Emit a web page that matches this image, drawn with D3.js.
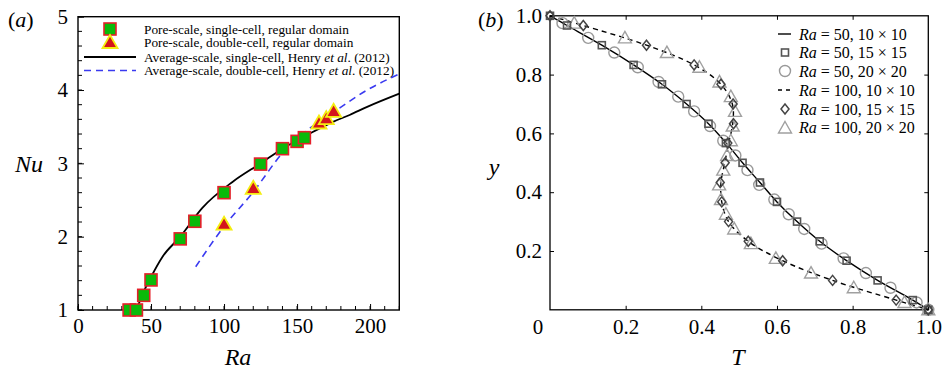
<!doctype html>
<html>
<head>
<meta charset="utf-8">
<script src="https://d3js.org/d3.v7.min.js"></script>
<style>
  body { margin: 0; background: #fff; }
  svg { display: block; font-family: "Liberation Serif", "Times New Roman", serif; }
</style>
</head>
<body>
<div id="chart"></div>
<script>
// ---- panel (a): Nu vs Ra ----
var raSingle = [35, 40, 45, 50, 70, 80, 100, 125, 140, 150, 155];
var nuSingle = [1.0, 1.0, 1.2, 1.41, 1.97, 2.21, 2.6, 2.99, 3.2, 3.3, 3.35];
var raDouble = [100, 120, 165, 170, 175];
var nuDouble = [2.17, 2.66, 3.55, 3.61, 3.71];
var raAvgSingle = [40, 45, 50, 58, 70, 85, 106, 125, 140, 159, 175, 186, 198, 220];
var nuAvgSingle = [1.0, 1.25, 1.45, 1.73, 2.0, 2.39, 2.75, 3.0, 3.2, 3.41, 3.57, 3.66, 3.77, 3.95];
var raAvgDouble = [80.6, 100, 120, 140, 165, 175, 198, 220];
var nuAvgDouble = [1.59, 2.14, 2.61, 3.14, 3.57, 3.7, 4.0, 4.22];
var legendA = ["Pore-scale, single-cell, regular domain",
               "Pore-scale, double-cell, regular domain",
               "Average-scale, single-cell, Henry |et al|. (2012)",
               "Average-scale, double-cell, Henry |et al|. (2012)"];

// ---- panel (b): y vs T ----
var yGrid15 = [1, 0.967, 0.9, 0.833, 0.767, 0.7, 0.633, 0.567, 0.5, 0.433, 0.367, 0.3, 0.233, 0.167, 0.1, 0.033, 0];
var tRa50_15 = [0, 0.045, 0.137, 0.221, 0.296, 0.361, 0.419, 0.465, 0.509, 0.555, 0.6, 0.653, 0.713, 0.784, 0.866, 0.959, 1];
var tRa100_15 = [0, 0.088, 0.255, 0.381, 0.452, 0.484, 0.485, 0.47, 0.463, 0.45, 0.454, 0.472, 0.524, 0.615, 0.747, 0.915, 1];
var yGrid20 = [0.975, 0.925, 0.875, 0.825, 0.775, 0.725, 0.675, 0.625, 0.575, 0.525, 0.475, 0.425, 0.375, 0.325, 0.275, 0.225, 0.175, 0.125, 0.075, 0.025, 0];
var tRa50_20 = [0.033, 0.101, 0.17, 0.232, 0.287, 0.339, 0.381, 0.423, 0.458, 0.49, 0.522, 0.553, 0.593, 0.631, 0.672, 0.718, 0.776, 0.835, 0.9, 0.969, 1];
var tRa100_20 = [0.064, 0.198, 0.309, 0.395, 0.448, 0.478, 0.489, 0.483, 0.478, 0.468, 0.458, 0.447, 0.452, 0.465, 0.487, 0.531, 0.597, 0.69, 0.803, 0.937, 1];
var yLine = [1, 0.967, 0.9, 0.833, 0.767, 0.7, 0.633, 0.567, 0.5, 0.433, 0.367, 0.3, 0.233, 0.167, 0.1, 0.033, 0];
var tLine50 = [0, 0.045, 0.137, 0.221, 0.296, 0.361, 0.419, 0.466, 0.509, 0.555, 0.6, 0.653, 0.713, 0.784, 0.866, 0.959, 1];
var tLine100 = [0, 0.088, 0.255, 0.381, 0.452, 0.482, 0.483, 0.472, 0.462, 0.452, 0.454, 0.472, 0.524, 0.615, 0.747, 0.915, 1];
var legendB = [["50", "10 × 10"], ["50", "15 × 15"], ["50", "20 × 20"],
               ["100", "10 × 10"], ["100", "15 × 15"], ["100", "20 × 20"]];

var svg = d3.select("#chart").append("svg").attr("width", 942).attr("height", 371);

function zip(a, b) { return a.map(function(d, i) { return [d, b[i]]; }); }
function styleAxis(a) {
  a.attr("font-family", null).attr("font-size", null);
  a.select(".domain").remove();
  a.selectAll(".tick text").attr("fill", "#000").style("font-size", "21px");
  a.selectAll(".tick line").attr("stroke-width", 1);
}
function panelLabel(x, y, letter) {
  var t = svg.append("text").attr("x", x).attr("y", y).style("font-size", "22px");
  t.append("tspan").text("(");
  t.append("tspan").style("font-style", "italic").text(letter);
  t.append("tspan").text(")");
}

// ================= (a) =================
var xa = d3.scaleLinear().domain([0, 220]).range([78, 399.3]);
var ya = d3.scaleLinear().domain([1, 5]).range([310, 16.7]);
var ga = svg.append("g");

// minor ticks
ga.selectAll(".mx").data(d3.range(0, 221, 10)).enter().append("line")
  .attr("x1", function(d) { return xa(d); }).attr("x2", function(d) { return xa(d); })
  .attr("y1", 310).attr("y2", 306).attr("stroke", "#000").attr("stroke-width", 1);
ga.selectAll(".my").data(d3.range(1, 5.01, 0.2)).enter().append("line")
  .attr("y1", function(d) { return ya(d); }).attr("y2", function(d) { return ya(d); })
  .attr("x1", 78).attr("x2", 82).attr("stroke", "#000").attr("stroke-width", 1);

var axBa = ga.append("g").attr("transform", "translate(0,310)")
  .call(d3.axisBottom(xa).tickValues([0, 50, 100, 150, 200]).tickFormat(d3.format("d")).tickSizeInner(-6).tickPadding(8));
var axLa = ga.append("g").attr("transform", "translate(78,0)")
  .call(d3.axisLeft(ya).tickValues([1, 2, 3, 4, 5]).tickFormat(d3.format("d")).tickSizeInner(-6).tickPadding(10));
styleAxis(axBa);
styleAxis(axLa);

ga.append("rect").attr("x", 78).attr("y", 16.7).attr("width", 321.3).attr("height", 293.3)
  .attr("fill", "none").attr("stroke", "#000").attr("stroke-width", 1.4);

var lineA = d3.line().x(function(d) { return xa(d[0]); }).y(function(d) { return ya(d[1]); }).curve(d3.curveMonotoneX);
ga.append("path").datum(zip(raAvgSingle, nuAvgSingle)).attr("d", lineA)
  .attr("fill", "none").attr("stroke", "#000").attr("stroke-width", 1.8);
ga.append("path").datum(zip(raAvgDouble, nuAvgDouble)).attr("d", lineA)
  .attr("fill", "none").attr("stroke", "#3a3af0").attr("stroke-width", 1.6).attr("stroke-dasharray", "7,5");

function squareA(g, x, y) {
  g.append("rect").attr("x", x - 6).attr("y", y - 6).attr("width", 12).attr("height", 12)
    .attr("fill", "#0aba0a").attr("stroke", "#e4202a").attr("stroke-width", 1.6);
}
function triA(g, x, y) {
  g.append("path").attr("transform", "translate(" + x + "," + y + ")")
    .attr("d", "M0,-7.5L7.5,5.5L-7.5,5.5Z")
    .attr("fill", "#d4141c").attr("stroke", "#f4ee10").attr("stroke-width", 1.8);
}
zip(raSingle, nuSingle).forEach(function(d) { squareA(ga, xa(d[0]), ya(d[1])); });
zip(raDouble, nuDouble).forEach(function(d) { triA(ga, xa(d[0]), ya(d[1])); });

// legend (a)
var legA = ga.append("g");
var rowA = [29, 42.5, 57, 70.5];
squareA(legA, 110, rowA[0]);
triA(legA, 110, rowA[1]);
legA.append("line").attr("x1", 84).attr("x2", 136).attr("y1", rowA[2]).attr("y2", rowA[2])
  .attr("stroke", "#000").attr("stroke-width", 1.8);
legA.append("line").attr("x1", 84).attr("x2", 136).attr("y1", rowA[3]).attr("y2", rowA[3])
  .attr("stroke", "#3a3af0").attr("stroke-width", 1.6).attr("stroke-dasharray", "7,5");
legendA.forEach(function(s, i) {
  var t = legA.append("text").attr("x", 144).attr("y", rowA[i]).attr("dy", "0.35em")
    .style("font-size", "13.3px");
  s.split("|").forEach(function(part, j) {
    t.append("tspan").text(part).style("font-style", j % 2 ? "italic" : "normal");
  });
});

panelLabel(8, 27, "a");
svg.append("text").attr("x", 29).attr("y", 164).attr("text-anchor", "middle").attr("dy", "0.35em")
  .style("font-size", "24px").style("font-style", "italic").text("Nu");
svg.append("text").attr("x", 238).attr("y", 365).attr("text-anchor", "middle")
  .style("font-size", "24px").style("font-style", "italic").text("Ra");

// ================= (b) =================
var xb = d3.scaleLinear().domain([0, 1]).range([550, 928.3]);
var yb = d3.scaleLinear().domain([0, 1]).range([309.8, 15.8]);
var gb = svg.append("g");
var tv = [0.2, 0.4, 0.6, 0.8];

gb.append("rect").attr("x", 550).attr("y", 15.8).attr("width", 378.3).attr("height", 294)
  .attr("fill", "none").attr("stroke", "#000").attr("stroke-width", 1.3);

var axBb = gb.append("g").attr("transform", "translate(0,309.8)")
  .call(d3.axisBottom(xb).tickValues([0.2, 0.4, 0.6, 0.8, 1.0]).tickFormat(d3.format(".1f")).tickSizeInner(-4).tickPadding(9));
var axLb = gb.append("g").attr("transform", "translate(550,0)")
  .call(d3.axisLeft(yb).tickValues([0.2, 0.4, 0.6, 0.8, 1.0]).tickFormat(d3.format(".1f")).tickSizeInner(-4).tickPadding(8));
var axTb = gb.append("g").attr("transform", "translate(0,15.8)")
  .call(d3.axisTop(xb).tickValues(tv).tickSizeInner(-4).tickFormat(""));
var axRb = gb.append("g").attr("transform", "translate(928.3,0)")
  .call(d3.axisRight(yb).tickValues(tv).tickSizeInner(-4).tickFormat(""));
[axBb, axLb, axTb, axRb].forEach(styleAxis);
gb.append("text").attr("x", 538).attr("y", 334).attr("text-anchor", "middle")
  .style("font-size", "21px").text("0");

var lineB = d3.line().x(function(d) { return xb(d[0]); }).y(function(d) { return yb(d[1]); }).curve(d3.curveCatmullRom);
gb.append("path").datum(zip(tLine50, yLine)).attr("d", lineB)
  .attr("fill", "none").attr("stroke", "#000").attr("stroke-width", 1.4);
gb.append("path").datum(zip(tLine100, yLine)).attr("d", lineB)
  .attr("fill", "none").attr("stroke", "#000").attr("stroke-width", 1.4).attr("stroke-dasharray", "5,4");

function sqB(g, x, y) {
  g.append("rect").attr("x", x - 3.5).attr("y", y - 3.5).attr("width", 7).attr("height", 7)
    .attr("fill", "none").attr("stroke", "#555").attr("stroke-width", 1.6);
}
function circB(g, x, y) {
  g.append("circle").attr("cx", x).attr("cy", y).attr("r", 5.5)
    .attr("fill", "none").attr("stroke", "#999").attr("stroke-width", 1.4);
}
function diaB(g, x, y) {
  g.append("path").attr("transform", "translate(" + x + "," + y + ")").attr("d", "M0,-5L4,0L0,5L-4,0Z")
    .attr("fill", "none").attr("stroke", "#444").attr("stroke-width", 1.5);
}
function triB(g, x, y) {
  g.append("path").attr("transform", "translate(" + x + "," + y + ")").attr("d", "M0,-6.5L6.5,5L-6.5,5Z")
    .attr("fill", "none").attr("stroke", "#a0a0a0").attr("stroke-width", 1.4);
}
zip(tRa50_20, yGrid20).forEach(function(d) { circB(gb, xb(d[0]), yb(d[1])); });
zip(tRa100_20, yGrid20).forEach(function(d) { triB(gb, xb(d[0]), yb(d[1])); });
zip(tRa50_15, yGrid15).forEach(function(d) { sqB(gb, xb(d[0]), yb(d[1])); });
zip(tRa100_15, yGrid15).forEach(function(d) { diaB(gb, xb(d[0]), yb(d[1])); });

// legend (b)
var legB = gb.append("g");
var rowB = [34, 52.5, 71, 90, 109, 127.5];
legB.append("line").attr("x1", 778).attr("x2", 791).attr("y1", rowB[0]).attr("y2", rowB[0]).attr("stroke", "#000").attr("stroke-width", 1.4);
sqB(legB, 785, rowB[1]);
circB(legB, 785, rowB[2]);
legB.append("line").attr("x1", 778).attr("x2", 791).attr("y1", rowB[3]).attr("y2", rowB[3]).attr("stroke", "#000").attr("stroke-width", 1.4).attr("stroke-dasharray", "4,4");
diaB(legB, 785, rowB[4]);
triB(legB, 785, rowB[5] + 0.5);
legendB.forEach(function(d, i) {
  var t = legB.append("text").attr("x", 799).attr("y", rowB[i]).attr("dy", "0.35em").style("font-size", "16px");
  t.append("tspan").style("font-style", "italic").text("Ra");
  t.append("tspan").text(" = " + d[0] + ", " + d[1]);
});

panelLabel(478, 27, "b");
svg.append("text").attr("x", 494).attr("y", 167).attr("text-anchor", "middle").attr("dy", "0.35em")
  .style("font-size", "24px").style("font-style", "italic").text("y");
svg.append("text").attr("x", 738).attr("y", 365).attr("text-anchor", "middle")
  .style("font-size", "24px").style("font-style", "italic").text("T");
</script>
</body>
</html>
